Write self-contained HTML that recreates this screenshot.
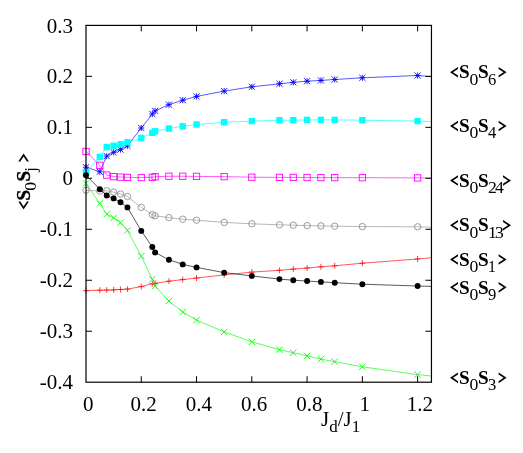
<!DOCTYPE html><html><head><meta charset="utf-8"><style>html,body{margin:0;padding:0;background:#fff}svg{display:block}text{font-family:"Liberation Serif",serif;fill:#000}svg{will-change:transform}</style></head><body>
<svg width="523" height="453" viewBox="0 0 523 453">
<rect width="523" height="453" fill="#fff"/>
<defs><clipPath id="c"><rect x="86.0" y="25.4" width="345.45" height="356.8"/></clipPath></defs>
<g clip-path="url(#c)"><path d="M86.00,290.70L99.82,290.20L106.73,290.10L113.64,289.90L120.55,289.50L127.45,289.10L141.27,286.60L152.33,283.70L155.09,283.30L168.91,281.20L182.73,279.60L196.54,278.00L224.18,274.90L251.82,272.10L279.45,270.30L293.27,269.10L307.09,268.00L320.91,266.80L334.72,265.80L362.36,263.20L417.63,259.00L431.45,257.70" fill="none" stroke="#ff0000" stroke-width="0.65"/></g>
<path d="M83.00,290.70H89.00M86.00,287.70V293.70" stroke="#ff0000" stroke-width="0.75" fill="none"/>
<path d="M96.82,290.20H102.82M99.82,287.20V293.20" stroke="#ff0000" stroke-width="0.75" fill="none"/>
<path d="M103.73,290.10H109.73M106.73,287.10V293.10" stroke="#ff0000" stroke-width="0.75" fill="none"/>
<path d="M110.64,289.90H116.64M113.64,286.90V292.90" stroke="#ff0000" stroke-width="0.75" fill="none"/>
<path d="M117.55,289.50H123.55M120.55,286.50V292.50" stroke="#ff0000" stroke-width="0.75" fill="none"/>
<path d="M124.45,289.10H130.45M127.45,286.10V292.10" stroke="#ff0000" stroke-width="0.75" fill="none"/>
<path d="M138.27,286.60H144.27M141.27,283.60V289.60" stroke="#ff0000" stroke-width="0.75" fill="none"/>
<path d="M149.33,283.70H155.33M152.33,280.70V286.70" stroke="#ff0000" stroke-width="0.75" fill="none"/>
<path d="M152.09,283.30H158.09M155.09,280.30V286.30" stroke="#ff0000" stroke-width="0.75" fill="none"/>
<path d="M165.91,281.20H171.91M168.91,278.20V284.20" stroke="#ff0000" stroke-width="0.75" fill="none"/>
<path d="M179.73,279.60H185.73M182.73,276.60V282.60" stroke="#ff0000" stroke-width="0.75" fill="none"/>
<path d="M193.54,278.00H199.54M196.54,275.00V281.00" stroke="#ff0000" stroke-width="0.75" fill="none"/>
<path d="M221.18,274.90H227.18M224.18,271.90V277.90" stroke="#ff0000" stroke-width="0.75" fill="none"/>
<path d="M248.82,272.10H254.82M251.82,269.10V275.10" stroke="#ff0000" stroke-width="0.75" fill="none"/>
<path d="M276.45,270.30H282.45M279.45,267.30V273.30" stroke="#ff0000" stroke-width="0.75" fill="none"/>
<path d="M290.27,269.10H296.27M293.27,266.10V272.10" stroke="#ff0000" stroke-width="0.75" fill="none"/>
<path d="M304.09,268.00H310.09M307.09,265.00V271.00" stroke="#ff0000" stroke-width="0.75" fill="none"/>
<path d="M317.91,266.80H323.91M320.91,263.80V269.80" stroke="#ff0000" stroke-width="0.75" fill="none"/>
<path d="M331.72,265.80H337.72M334.72,262.80V268.80" stroke="#ff0000" stroke-width="0.75" fill="none"/>
<path d="M359.36,263.20H365.36M362.36,260.20V266.20" stroke="#ff0000" stroke-width="0.75" fill="none"/>
<path d="M414.63,259.00H420.63M417.63,256.00V262.00" stroke="#ff0000" stroke-width="0.75" fill="none"/>
<g clip-path="url(#c)"><path d="M86.00,183.50L99.82,203.50L106.73,214.10L113.64,217.90L120.55,222.70L127.45,230.30L141.27,256.20L152.33,279.30L155.09,286.10L168.91,301.10L182.73,312.00L196.54,320.10L224.18,331.90L251.82,341.80L279.45,349.70L293.27,352.70L307.09,355.90L320.91,359.10L334.72,361.70L362.36,366.80L417.63,374.60L431.45,376.00" fill="none" stroke="#00ff00" stroke-width="0.65"/></g>
<path d="M82.80,180.30L89.20,186.70M82.80,186.70L89.20,180.30" stroke="#00ff00" stroke-width="0.9" fill="none"/>
<path d="M96.62,200.30L103.02,206.70M96.62,206.70L103.02,200.30" stroke="#00ff00" stroke-width="0.9" fill="none"/>
<path d="M103.53,210.90L109.93,217.30M103.53,217.30L109.93,210.90" stroke="#00ff00" stroke-width="0.9" fill="none"/>
<path d="M110.44,214.70L116.84,221.10M110.44,221.10L116.84,214.70" stroke="#00ff00" stroke-width="0.9" fill="none"/>
<path d="M117.34,219.50L123.75,225.90M117.34,225.90L123.75,219.50" stroke="#00ff00" stroke-width="0.9" fill="none"/>
<path d="M124.25,227.10L130.65,233.50M124.25,233.50L130.65,227.10" stroke="#00ff00" stroke-width="0.9" fill="none"/>
<path d="M138.07,253.00L144.47,259.40M138.07,259.40L144.47,253.00" stroke="#00ff00" stroke-width="0.9" fill="none"/>
<path d="M149.13,276.10L155.53,282.50M149.13,282.50L155.53,276.10" stroke="#00ff00" stroke-width="0.9" fill="none"/>
<path d="M151.89,282.90L158.29,289.30M151.89,289.30L158.29,282.90" stroke="#00ff00" stroke-width="0.9" fill="none"/>
<path d="M165.71,297.90L172.11,304.30M165.71,304.30L172.11,297.90" stroke="#00ff00" stroke-width="0.9" fill="none"/>
<path d="M179.53,308.80L185.93,315.20M179.53,315.20L185.93,308.80" stroke="#00ff00" stroke-width="0.9" fill="none"/>
<path d="M193.34,316.90L199.74,323.30M193.34,323.30L199.74,316.90" stroke="#00ff00" stroke-width="0.9" fill="none"/>
<path d="M220.98,328.70L227.38,335.10M220.98,335.10L227.38,328.70" stroke="#00ff00" stroke-width="0.9" fill="none"/>
<path d="M248.62,338.60L255.02,345.00M248.62,345.00L255.02,338.60" stroke="#00ff00" stroke-width="0.9" fill="none"/>
<path d="M276.25,346.50L282.65,352.90M276.25,352.90L282.65,346.50" stroke="#00ff00" stroke-width="0.9" fill="none"/>
<path d="M290.07,349.50L296.47,355.90M290.07,355.90L296.47,349.50" stroke="#00ff00" stroke-width="0.9" fill="none"/>
<path d="M303.89,352.70L310.29,359.10M303.89,359.10L310.29,352.70" stroke="#00ff00" stroke-width="0.9" fill="none"/>
<path d="M317.71,355.90L324.11,362.30M317.71,362.30L324.11,355.90" stroke="#00ff00" stroke-width="0.9" fill="none"/>
<path d="M331.52,358.50L337.92,364.90M331.52,364.90L337.92,358.50" stroke="#00ff00" stroke-width="0.9" fill="none"/>
<path d="M359.16,363.60L365.56,370.00M359.16,370.00L365.56,363.60" stroke="#00ff00" stroke-width="0.9" fill="none"/>
<path d="M414.43,371.40L420.83,377.80M414.43,377.80L420.83,371.40" stroke="#00ff00" stroke-width="0.9" fill="none"/>
<g clip-path="url(#c)"><path d="M86.00,167.20L99.82,171.80L106.73,156.10L113.64,152.30L120.55,149.60L127.45,145.80L141.27,128.00L152.33,114.00L155.09,110.90L168.91,104.70L182.73,100.20L196.54,96.40L224.18,91.10L251.82,86.80L279.45,83.80L293.27,82.30L307.09,81.20L320.91,80.40L334.72,79.50L362.36,77.80L417.63,75.50L431.45,76.60" fill="none" stroke="#0000ff" stroke-width="0.65"/></g>
<path d="M82.95,167.20H89.05M86.00,164.15V170.25M82.95,164.15L89.05,170.25M82.95,170.25L89.05,164.15" stroke="#0000ff" stroke-width="0.9" fill="none"/>
<path d="M96.77,171.80H102.87M99.82,168.75V174.85M96.77,168.75L102.87,174.85M96.77,174.85L102.87,168.75" stroke="#0000ff" stroke-width="0.9" fill="none"/>
<path d="M103.68,156.10H109.78M106.73,153.05V159.15M103.68,153.05L109.78,159.15M103.68,159.15L109.78,153.05" stroke="#0000ff" stroke-width="0.9" fill="none"/>
<path d="M110.59,152.30H116.69M113.64,149.25V155.35M110.59,149.25L116.69,155.35M110.59,155.35L116.69,149.25" stroke="#0000ff" stroke-width="0.9" fill="none"/>
<path d="M117.50,149.60H123.59M120.55,146.55V152.65M117.50,146.55L123.59,152.65M117.50,152.65L123.59,146.55" stroke="#0000ff" stroke-width="0.9" fill="none"/>
<path d="M124.40,145.80H130.50M127.45,142.75V148.85M124.40,142.75L130.50,148.85M124.40,148.85L130.50,142.75" stroke="#0000ff" stroke-width="0.9" fill="none"/>
<path d="M138.22,128.00H144.32M141.27,124.95V131.05M138.22,124.95L144.32,131.05M138.22,131.05L144.32,124.95" stroke="#0000ff" stroke-width="0.9" fill="none"/>
<path d="M149.28,114.00H155.38M152.33,110.95V117.05M149.28,110.95L155.38,117.05M149.28,117.05L155.38,110.95" stroke="#0000ff" stroke-width="0.9" fill="none"/>
<path d="M152.04,110.90H158.14M155.09,107.85V113.95M152.04,107.85L158.14,113.95M152.04,113.95L158.14,107.85" stroke="#0000ff" stroke-width="0.9" fill="none"/>
<path d="M165.86,104.70H171.96M168.91,101.65V107.75M165.86,101.65L171.96,107.75M165.86,107.75L171.96,101.65" stroke="#0000ff" stroke-width="0.9" fill="none"/>
<path d="M179.68,100.20H185.78M182.73,97.15V103.25M179.68,97.15L185.78,103.25M179.68,103.25L185.78,97.15" stroke="#0000ff" stroke-width="0.9" fill="none"/>
<path d="M193.49,96.40H199.59M196.54,93.35V99.45M193.49,93.35L199.59,99.45M193.49,99.45L199.59,93.35" stroke="#0000ff" stroke-width="0.9" fill="none"/>
<path d="M221.13,91.10H227.23M224.18,88.05V94.15M221.13,88.05L227.23,94.15M221.13,94.15L227.23,88.05" stroke="#0000ff" stroke-width="0.9" fill="none"/>
<path d="M248.77,86.80H254.87M251.82,83.75V89.85M248.77,83.75L254.87,89.85M248.77,89.85L254.87,83.75" stroke="#0000ff" stroke-width="0.9" fill="none"/>
<path d="M276.40,83.80H282.50M279.45,80.75V86.85M276.40,80.75L282.50,86.85M276.40,86.85L282.50,80.75" stroke="#0000ff" stroke-width="0.9" fill="none"/>
<path d="M290.22,82.30H296.32M293.27,79.25V85.35M290.22,79.25L296.32,85.35M290.22,85.35L296.32,79.25" stroke="#0000ff" stroke-width="0.9" fill="none"/>
<path d="M304.04,81.20H310.14M307.09,78.15V84.25M304.04,78.15L310.14,84.25M304.04,84.25L310.14,78.15" stroke="#0000ff" stroke-width="0.9" fill="none"/>
<path d="M317.86,80.40H323.96M320.91,77.35V83.45M317.86,77.35L323.96,83.45M317.86,83.45L323.96,77.35" stroke="#0000ff" stroke-width="0.9" fill="none"/>
<path d="M331.67,79.50H337.77M334.72,76.45V82.55M331.67,76.45L337.77,82.55M331.67,82.55L337.77,76.45" stroke="#0000ff" stroke-width="0.9" fill="none"/>
<path d="M359.31,77.80H365.41M362.36,74.75V80.85M359.31,74.75L365.41,80.85M359.31,80.85L365.41,74.75" stroke="#0000ff" stroke-width="0.9" fill="none"/>
<path d="M414.58,75.50H420.68M417.63,72.45V78.55M414.58,72.45L420.68,78.55M414.58,78.55L420.68,72.45" stroke="#0000ff" stroke-width="0.9" fill="none"/>
<g clip-path="url(#c)"><path d="M86.00,151.50L99.82,165.30L106.73,175.10L113.64,176.60L120.55,177.10L127.45,177.40L141.27,177.55L152.33,177.30L155.09,176.70L168.91,176.25L182.73,176.25L196.54,176.40L224.18,176.65L251.82,177.20L279.45,177.40L293.27,177.40L307.09,177.50L320.91,177.60L334.72,177.65L362.36,177.70L417.63,177.90L431.45,178.00" fill="none" stroke="#ff00ff" stroke-width="0.65"/></g>
<rect x="82.85" y="148.35" width="6.3" height="6.3" fill="none" stroke="#ff00ff" stroke-width="0.9"/>
<rect x="96.67" y="162.15" width="6.3" height="6.3" fill="none" stroke="#ff00ff" stroke-width="0.9"/>
<rect x="103.58" y="171.95" width="6.3" height="6.3" fill="none" stroke="#ff00ff" stroke-width="0.9"/>
<rect x="110.49" y="173.45" width="6.3" height="6.3" fill="none" stroke="#ff00ff" stroke-width="0.9"/>
<rect x="117.39" y="173.95" width="6.3" height="6.3" fill="none" stroke="#ff00ff" stroke-width="0.9"/>
<rect x="124.30" y="174.25" width="6.3" height="6.3" fill="none" stroke="#ff00ff" stroke-width="0.9"/>
<rect x="138.12" y="174.40" width="6.3" height="6.3" fill="none" stroke="#ff00ff" stroke-width="0.9"/>
<rect x="149.18" y="174.15" width="6.3" height="6.3" fill="none" stroke="#ff00ff" stroke-width="0.9"/>
<rect x="151.94" y="173.55" width="6.3" height="6.3" fill="none" stroke="#ff00ff" stroke-width="0.9"/>
<rect x="165.76" y="173.10" width="6.3" height="6.3" fill="none" stroke="#ff00ff" stroke-width="0.9"/>
<rect x="179.58" y="173.10" width="6.3" height="6.3" fill="none" stroke="#ff00ff" stroke-width="0.9"/>
<rect x="193.39" y="173.25" width="6.3" height="6.3" fill="none" stroke="#ff00ff" stroke-width="0.9"/>
<rect x="221.03" y="173.50" width="6.3" height="6.3" fill="none" stroke="#ff00ff" stroke-width="0.9"/>
<rect x="248.67" y="174.05" width="6.3" height="6.3" fill="none" stroke="#ff00ff" stroke-width="0.9"/>
<rect x="276.30" y="174.25" width="6.3" height="6.3" fill="none" stroke="#ff00ff" stroke-width="0.9"/>
<rect x="290.12" y="174.25" width="6.3" height="6.3" fill="none" stroke="#ff00ff" stroke-width="0.9"/>
<rect x="303.94" y="174.35" width="6.3" height="6.3" fill="none" stroke="#ff00ff" stroke-width="0.9"/>
<rect x="317.76" y="174.45" width="6.3" height="6.3" fill="none" stroke="#ff00ff" stroke-width="0.9"/>
<rect x="331.57" y="174.50" width="6.3" height="6.3" fill="none" stroke="#ff00ff" stroke-width="0.9"/>
<rect x="359.21" y="174.55" width="6.3" height="6.3" fill="none" stroke="#ff00ff" stroke-width="0.9"/>
<rect x="414.48" y="174.75" width="6.3" height="6.3" fill="none" stroke="#ff00ff" stroke-width="0.9"/>
<g clip-path="url(#c)"><path d="M86.00,172.60L99.82,156.90L106.73,147.10L113.64,145.80L120.55,144.30L127.45,142.30L141.27,138.00L152.33,132.80L155.09,131.30L168.91,128.50L182.73,126.30L196.54,124.50L224.18,122.20L251.82,121.10L279.45,120.20L293.27,120.20L307.09,119.90L320.91,119.90L334.72,119.90L362.36,120.20L417.63,121.10L431.45,121.70" fill="none" stroke="#00ffff" stroke-width="0.65"/></g>
<rect x="82.80" y="169.40" width="6.4" height="6.4" fill="#00ffff"/>
<rect x="96.62" y="153.70" width="6.4" height="6.4" fill="#00ffff"/>
<rect x="103.53" y="143.90" width="6.4" height="6.4" fill="#00ffff"/>
<rect x="110.44" y="142.60" width="6.4" height="6.4" fill="#00ffff"/>
<rect x="117.34" y="141.10" width="6.4" height="6.4" fill="#00ffff"/>
<rect x="124.25" y="139.10" width="6.4" height="6.4" fill="#00ffff"/>
<rect x="138.07" y="134.80" width="6.4" height="6.4" fill="#00ffff"/>
<rect x="149.13" y="129.60" width="6.4" height="6.4" fill="#00ffff"/>
<rect x="151.89" y="128.10" width="6.4" height="6.4" fill="#00ffff"/>
<rect x="165.71" y="125.30" width="6.4" height="6.4" fill="#00ffff"/>
<rect x="179.53" y="123.10" width="6.4" height="6.4" fill="#00ffff"/>
<rect x="193.34" y="121.30" width="6.4" height="6.4" fill="#00ffff"/>
<rect x="220.98" y="119.00" width="6.4" height="6.4" fill="#00ffff"/>
<rect x="248.62" y="117.90" width="6.4" height="6.4" fill="#00ffff"/>
<rect x="276.25" y="117.00" width="6.4" height="6.4" fill="#00ffff"/>
<rect x="290.07" y="117.00" width="6.4" height="6.4" fill="#00ffff"/>
<rect x="303.89" y="116.70" width="6.4" height="6.4" fill="#00ffff"/>
<rect x="317.71" y="116.70" width="6.4" height="6.4" fill="#00ffff"/>
<rect x="331.52" y="116.70" width="6.4" height="6.4" fill="#00ffff"/>
<rect x="359.16" y="117.00" width="6.4" height="6.4" fill="#00ffff"/>
<rect x="414.43" y="117.90" width="6.4" height="6.4" fill="#00ffff"/>
<g clip-path="url(#c)"><path d="M86.00,190.20L99.82,191.10L106.73,190.70L113.64,192.10L120.55,194.00L127.45,196.50L141.27,207.40L152.33,214.60L155.09,215.80L168.91,217.60L182.73,219.20L196.54,220.20L224.18,222.40L251.82,223.80L279.45,224.80L293.27,225.20L307.09,225.60L320.91,225.90L334.72,226.20L362.36,226.60L417.63,226.80L431.45,227.20" fill="none" stroke="#909090" stroke-width="0.65"/></g>
<circle cx="86.00" cy="190.20" r="3.2" fill="none" stroke="#909090" stroke-width="0.9"/>
<circle cx="99.82" cy="191.10" r="3.2" fill="none" stroke="#909090" stroke-width="0.9"/>
<circle cx="106.73" cy="190.70" r="3.2" fill="none" stroke="#909090" stroke-width="0.9"/>
<circle cx="113.64" cy="192.10" r="3.2" fill="none" stroke="#909090" stroke-width="0.9"/>
<circle cx="120.55" cy="194.00" r="3.2" fill="none" stroke="#909090" stroke-width="0.9"/>
<circle cx="127.45" cy="196.50" r="3.2" fill="none" stroke="#909090" stroke-width="0.9"/>
<circle cx="141.27" cy="207.40" r="3.2" fill="none" stroke="#909090" stroke-width="0.9"/>
<circle cx="152.33" cy="214.60" r="3.2" fill="none" stroke="#909090" stroke-width="0.9"/>
<circle cx="155.09" cy="215.80" r="3.2" fill="none" stroke="#909090" stroke-width="0.9"/>
<circle cx="168.91" cy="217.60" r="3.2" fill="none" stroke="#909090" stroke-width="0.9"/>
<circle cx="182.73" cy="219.20" r="3.2" fill="none" stroke="#909090" stroke-width="0.9"/>
<circle cx="196.54" cy="220.20" r="3.2" fill="none" stroke="#909090" stroke-width="0.9"/>
<circle cx="224.18" cy="222.40" r="3.2" fill="none" stroke="#909090" stroke-width="0.9"/>
<circle cx="251.82" cy="223.80" r="3.2" fill="none" stroke="#909090" stroke-width="0.9"/>
<circle cx="279.45" cy="224.80" r="3.2" fill="none" stroke="#909090" stroke-width="0.9"/>
<circle cx="293.27" cy="225.20" r="3.2" fill="none" stroke="#909090" stroke-width="0.9"/>
<circle cx="307.09" cy="225.60" r="3.2" fill="none" stroke="#909090" stroke-width="0.9"/>
<circle cx="320.91" cy="225.90" r="3.2" fill="none" stroke="#909090" stroke-width="0.9"/>
<circle cx="334.72" cy="226.20" r="3.2" fill="none" stroke="#909090" stroke-width="0.9"/>
<circle cx="362.36" cy="226.60" r="3.2" fill="none" stroke="#909090" stroke-width="0.9"/>
<circle cx="417.63" cy="226.80" r="3.2" fill="none" stroke="#909090" stroke-width="0.9"/>
<g clip-path="url(#c)"><path d="M86.00,175.20L99.82,189.20L106.73,195.50L113.64,198.40L120.55,202.20L127.45,207.40L141.27,230.90L152.33,247.00L155.09,252.50L168.91,259.70L182.73,264.40L196.54,267.40L224.18,272.60L251.82,275.90L279.45,279.10L293.27,280.20L307.09,281.00L320.91,281.90L334.72,282.70L362.36,284.20L417.63,286.00L431.45,286.40" fill="none" stroke="#000000" stroke-width="0.65"/></g>
<circle cx="86.00" cy="175.20" r="2.95" fill="#000000"/>
<circle cx="99.82" cy="189.20" r="2.95" fill="#000000"/>
<circle cx="106.73" cy="195.50" r="2.95" fill="#000000"/>
<circle cx="113.64" cy="198.40" r="2.95" fill="#000000"/>
<circle cx="120.55" cy="202.20" r="2.95" fill="#000000"/>
<circle cx="127.45" cy="207.40" r="2.95" fill="#000000"/>
<circle cx="141.27" cy="230.90" r="2.95" fill="#000000"/>
<circle cx="152.33" cy="247.00" r="2.95" fill="#000000"/>
<circle cx="155.09" cy="252.50" r="2.95" fill="#000000"/>
<circle cx="168.91" cy="259.70" r="2.95" fill="#000000"/>
<circle cx="182.73" cy="264.40" r="2.95" fill="#000000"/>
<circle cx="196.54" cy="267.40" r="2.95" fill="#000000"/>
<circle cx="224.18" cy="272.60" r="2.95" fill="#000000"/>
<circle cx="251.82" cy="275.90" r="2.95" fill="#000000"/>
<circle cx="279.45" cy="279.10" r="2.95" fill="#000000"/>
<circle cx="293.27" cy="280.20" r="2.95" fill="#000000"/>
<circle cx="307.09" cy="281.00" r="2.95" fill="#000000"/>
<circle cx="320.91" cy="281.90" r="2.95" fill="#000000"/>
<circle cx="334.72" cy="282.70" r="2.95" fill="#000000"/>
<circle cx="362.36" cy="284.20" r="2.95" fill="#000000"/>
<circle cx="417.63" cy="286.00" r="2.95" fill="#000000"/>
<rect x="86.0" y="25.4" width="345.45" height="356.8" fill="none" stroke="#000" stroke-width="1.2"/>
<path d="M86.0,76.37h6.0M431.45,76.37h-6.0M86.0,127.34h6.0M431.45,127.34h-6.0M86.0,178.31h6.0M431.45,178.31h-6.0M86.0,229.29h6.0M431.45,229.29h-6.0M86.0,280.26h6.0M431.45,280.26h-6.0M86.0,331.23h6.0M431.45,331.23h-6.0M141.27,382.2v-6.0M141.27,25.4v6.0M196.54,382.2v-6.0M196.54,25.4v6.0M251.82,382.2v-6.0M251.82,25.4v6.0M307.09,382.2v-6.0M307.09,25.4v6.0M362.36,382.2v-6.0M362.36,25.4v6.0M417.63,382.2v-6.0M417.63,25.4v6.0" stroke="#000" stroke-width="1.0" fill="none"/>
<text x="73.0" y="32.50" font-size="21" text-anchor="end">0.3</text>
<text x="73.0" y="83.47" font-size="21" text-anchor="end">0.2</text>
<text x="73.0" y="134.44" font-size="21" text-anchor="end">0.1</text>
<text x="73.0" y="185.41" font-size="21" text-anchor="end">0</text>
<text x="73.0" y="236.39" font-size="21" text-anchor="end">-0.1</text>
<text x="73.0" y="287.36" font-size="21" text-anchor="end">-0.2</text>
<text x="73.0" y="338.33" font-size="21" text-anchor="end">-0.3</text>
<text x="73.0" y="389.30" font-size="21" text-anchor="end">-0.4</text>
<text x="88.30" y="411" font-size="21" text-anchor="middle">0</text>
<text x="143.57" y="411" font-size="21" text-anchor="middle">0.2</text>
<text x="198.84" y="411" font-size="21" text-anchor="middle">0.4</text>
<text x="254.12" y="411" font-size="21" text-anchor="middle">0.6</text>
<text x="309.39" y="411" font-size="21" text-anchor="middle">0.8</text>
<text x="364.66" y="411" font-size="21" text-anchor="middle">1</text>
<text x="419.93" y="411" font-size="21" text-anchor="middle">1.2</text>
<text x="321" y="426" font-size="21">J<tspan font-size="17" dy="6.3">d</tspan><tspan dy="-6.3">/J</tspan><tspan font-size="17" dy="6.3">1</tspan></text>
<g transform="translate(29.8,209.5) rotate(-90)"><path d="M8.00,-11.50L0.00,-6.20L8.00,-0.90L8.00,-2.90L3.00,-6.20L8.00,-9.50Z" fill="#000"/><text x="9.10" y="0.00" font-size="19.2" font-weight="bold" stroke="#000" stroke-width="0.35">S</text><text transform="translate(18.80,6.20) scale(1.12,1)" font-size="15.8">0</text><text x="28.00" y="0.00" font-size="19.2" font-weight="bold" stroke="#000" stroke-width="0.35">S</text><text transform="translate(37.70,6.20) scale(1.05,1)" font-size="15.8">j</text><path d="M47.90,-11.50L55.90,-6.20L47.90,-0.90L47.90,-2.90L52.90,-6.20L47.90,-9.50Z" fill="#000"/></g>
<path d="M458.00,66.95L450.00,72.25L458.00,77.55L458.00,75.55L453.00,72.25L458.00,68.95Z" fill="#000"/><text x="459.10" y="78.45" font-size="19.2" font-weight="bold">S</text><text transform="translate(469.40,84.65) scale(1.12,1)" font-size="15.8">0</text><text x="478.00" y="78.45" font-size="19.2" font-weight="bold">S</text><text transform="translate(487.90,84.65) scale(1.05,1)" font-size="15.8">6</text><path d="M498.60,66.95L506.60,72.25L498.60,77.55L498.60,75.55L503.60,72.25L498.60,68.95Z" fill="#000"/>
<path d="M458.00,120.75L450.00,126.05L458.00,131.35L458.00,129.35L453.00,126.05L458.00,122.75Z" fill="#000"/><text x="459.10" y="132.25" font-size="19.2" font-weight="bold">S</text><text transform="translate(469.40,138.45) scale(1.12,1)" font-size="15.8">0</text><text x="478.00" y="132.25" font-size="19.2" font-weight="bold">S</text><text transform="translate(487.90,138.45) scale(1.05,1)" font-size="15.8">4</text><path d="M498.60,120.75L506.60,126.05L498.60,131.35L498.60,129.35L503.60,126.05L498.60,122.75Z" fill="#000"/>
<path d="M458.00,175.25L450.00,180.55L458.00,185.85L458.00,183.85L453.00,180.55L458.00,177.25Z" fill="#000"/><text x="459.10" y="186.75" font-size="19.2" font-weight="bold">S</text><text transform="translate(469.40,192.95) scale(1.12,1)" font-size="15.8">0</text><text x="478.00" y="186.75" font-size="19.2" font-weight="bold">S</text><text transform="translate(487.90,192.95) scale(1.12,1)" font-size="15.8" letter-spacing="-1.6">24</text><path d="M503.00,175.25L511.00,180.55L503.00,185.85L503.00,183.85L508.00,180.55L503.00,177.25Z" fill="#000"/>
<path d="M458.00,219.95L450.00,225.25L458.00,230.55L458.00,228.55L453.00,225.25L458.00,221.95Z" fill="#000"/><text x="459.10" y="231.45" font-size="19.2" font-weight="bold">S</text><text transform="translate(469.40,237.65) scale(1.12,1)" font-size="15.8">0</text><text x="478.00" y="231.45" font-size="19.2" font-weight="bold">S</text><text transform="translate(487.90,237.65) scale(1.12,1)" font-size="15.8" letter-spacing="-1.6">13</text><path d="M503.00,219.95L511.00,225.25L503.00,230.55L503.00,228.55L508.00,225.25L503.00,221.95Z" fill="#000"/>
<path d="M458.00,254.15L450.00,259.45L458.00,264.75L458.00,262.75L453.00,259.45L458.00,256.15Z" fill="#000"/><text x="459.10" y="265.65" font-size="19.2" font-weight="bold">S</text><text transform="translate(469.40,271.85) scale(1.12,1)" font-size="15.8">0</text><text x="478.00" y="265.65" font-size="19.2" font-weight="bold">S</text><text transform="translate(487.90,271.85) scale(1.0,1)" font-size="15.8">1</text><path d="M498.60,254.15L506.60,259.45L498.60,264.75L498.60,262.75L503.60,259.45L498.60,256.15Z" fill="#000"/>
<path d="M458.00,282.05L450.00,287.35L458.00,292.65L458.00,290.65L453.00,287.35L458.00,284.05Z" fill="#000"/><text x="459.10" y="293.55" font-size="19.2" font-weight="bold">S</text><text transform="translate(469.40,299.75) scale(1.12,1)" font-size="15.8">0</text><text x="478.00" y="293.55" font-size="19.2" font-weight="bold">S</text><text transform="translate(487.90,299.75) scale(1.05,1)" font-size="15.8">9</text><path d="M498.60,282.05L506.60,287.35L498.60,292.65L498.60,290.65L503.60,287.35L498.60,284.05Z" fill="#000"/>
<path d="M458.00,372.55L450.00,377.85L458.00,383.15L458.00,381.15L453.00,377.85L458.00,374.55Z" fill="#000"/><text x="459.10" y="384.05" font-size="19.2" font-weight="bold">S</text><text transform="translate(469.40,390.25) scale(1.12,1)" font-size="15.8">0</text><text x="478.00" y="384.05" font-size="19.2" font-weight="bold">S</text><text transform="translate(487.90,390.25) scale(1.05,1)" font-size="15.8">3</text><path d="M498.60,372.55L506.60,377.85L498.60,383.15L498.60,381.15L503.60,377.85L498.60,374.55Z" fill="#000"/>
</svg></body></html>
